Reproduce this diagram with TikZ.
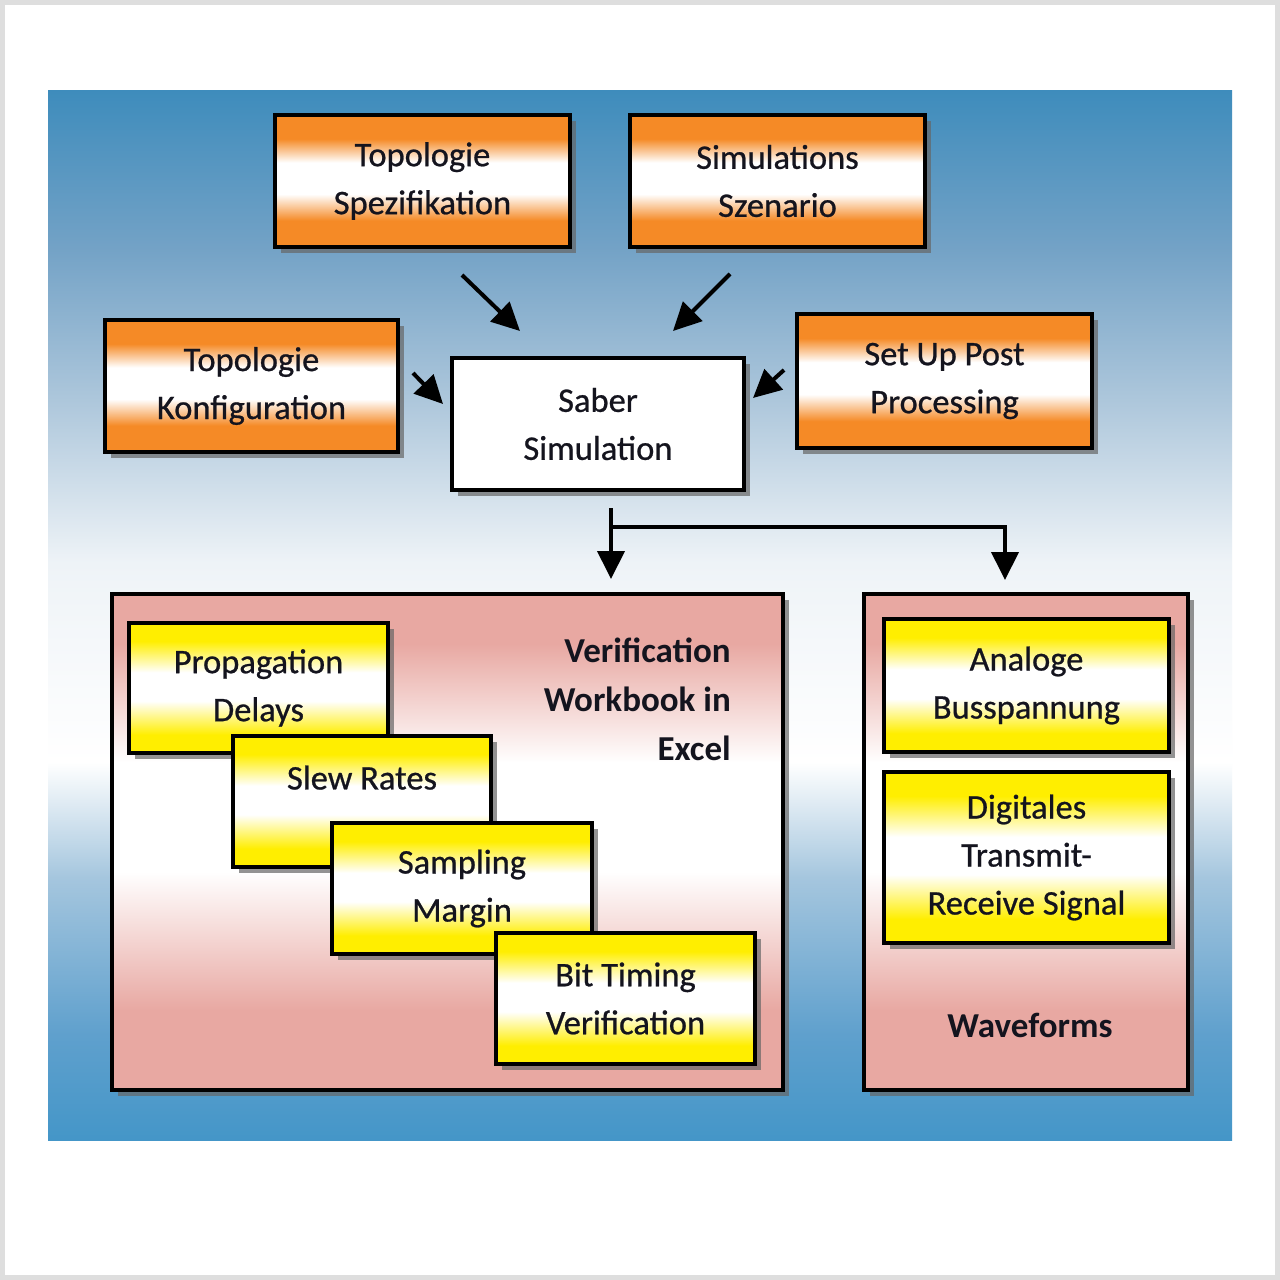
\documentclass[tikz,border=0pt]{standalone}
\usepackage{fontspec}
\setmainfont{Carlito}
\newfontfamily\boxfont{Carlito}[FakeBold=0.7]
\usetikzlibrary{arrows.meta,shadows}
\definecolor{cFrame}{RGB}{222,222,222}
\definecolor{cOrange}{RGB}{245,138,38}
\definecolor{cYellow}{RGB}{255,238,0}
\definecolor{cPink}{RGB}{232,168,162}
\definecolor{cText}{RGB}{20,20,30}
\definecolor{bT}{RGB}{62,140,188}
\definecolor{bB}{RGB}{68,150,200}
\definecolor{bOne}{RGB}{95,160,205}
\definecolor{bTwo}{RGB}{165,198,222}
\definecolor{bThree}{RGB}{238,243,247}
\definecolor{bFour}{RGB}{175,200,220}
\definecolor{bFive}{RGB}{115,162,198}
\pgfdeclareverticalshading{bshade}{100bp}{color(0bp)=(bB); color(25bp)=(bB); color(30bp)=(bOne); color(37.5bp)=(bTwo); color(43bp)=(white); color(52.5bp)=(bThree); color(60bp)=(bFour); color(67.5bp)=(bFive); color(75bp)=(bT); color(100bp)=(bT)}
\pgfdeclareverticalshading{oshade}{100bp}{color(0bp)=(cOrange); color(25bp)=(cOrange); color(35bp)=(cOrange); color(45bp)=(white); color(57bp)=(white); color(66bp)=(cOrange); color(75bp)=(cOrange); color(100bp)=(cOrange)}
\pgfdeclareverticalshading{yshade}{100bp}{color(0bp)=(cYellow); color(25bp)=(cYellow); color(32bp)=(cYellow); color(45bp)=(white); color(56bp)=(white); color(68bp)=(cYellow); color(75bp)=(cYellow); color(100bp)=(cYellow)}
\pgfdeclareverticalshading{pshade}{100bp}{color(0bp)=(cPink); color(25bp)=(cPink); color(33bp)=(cPink); color(47bp)=(white); color(58bp)=(white); color(70bp)=(cPink); color(75bp)=(cPink); color(100bp)=(cPink)}
\tikzset{
  basebox/.style={draw=black, line width=3.5pt, inner sep=0pt, align=center, text=cText,
    font=\boxfont\fontsize{34.5}{48}\selectfont,
    drop shadow={shadow xshift=6pt, shadow yshift=-6pt, fill=black!60, opacity=0.7}},
  obox/.style={basebox, shade, shading=oshade},
  ybox/.style={basebox, shade, shading=yshade},
  pbox/.style={basebox, shade, shading=pshade},
  wbox/.style={basebox, fill=white},
  boldtxt/.style={inner sep=0pt, text=cText, font=\fontsize{35}{49}\selectfont\bfseries},
  arr/.style={line width=4pt, line join=miter, -{Triangle[length=28pt,width=27pt]}}
}
\begin{document}
\begin{tikzpicture}[x=1pt,y=-1pt]
\useasboundingbox (0,0) rectangle (1280,1280);
\fill[cFrame] (0,0) rectangle (1280,1280);
\fill[white] (5,5) rectangle (1275,1275);
\shade[shading=bshade] (48,90) rectangle (1232,1140);

% top boxes
\node[obox, minimum width=295, minimum height=132] (spez) at (422.5,181) {Topologie\\Spezifikation};
\node[obox, minimum width=295, minimum height=132] (szen) at (777.5,181) {Simulations\\Szenario};
\node[obox, minimum width=293, minimum height=132] (konf) at (251.5,386) {Topologie\\Konfiguration};
\node[obox, minimum width=295, minimum height=134] (post) at (944.5,381) {Set Up Post\\Processing};
\node[wbox, minimum width=292, minimum height=132] (saber) at (598,424) {Saber\\Simulation};

% arrows into Saber
\coordinate (a1s) at (462,275); \coordinate (a1e) at (520,331);
\coordinate (a2s) at (730,274); \coordinate (a2e) at (673,331);
\coordinate (a3s) at (413,373); \coordinate (a3e) at (443,404);
\coordinate (a4s) at (784,370); \coordinate (a4e) at (753,398);
\draw[arr] (a1s) -- (a1e);
\draw[arr] (a2s) -- (a2e);
\draw[arr] (a3s) -- (a3e);
\draw[arr] (a4s) -- (a4e);

% panels
\node[pbox, minimum width=671, minimum height=496] (lpanel) at (447.5,842) {};
\node[pbox, minimum width=324, minimum height=496] (rpanel) at (1026,842) {};

% branch arrows
\coordinate (b0) at (611,508);
\coordinate (bj) at (611,527);
\coordinate (b1) at (611,579);
\coordinate (br) at (1005,527);
\coordinate (b2) at (1005,580);
\draw[arr] (b0) -- (b1);
\draw[arr] (bj) -- (br) -- (b2);

% left panel content
\node[boldtxt, anchor=east, align=right] (vtxt) at (731,699) {Verification\\Workbook in\\Excel};
\node[ybox, minimum width=259, minimum height=130] (prop) at (258.5,688) {Propagation\\Delays};
\node[ybox, minimum width=258, minimum height=131] (slew) at (362,801.5) {Slew Rates\\\mbox{}};
\node[ybox, minimum width=260, minimum height=131] (samp) at (462,888.5) {Sampling\\Margin};
\node[ybox, minimum width=259, minimum height=131] (bit) at (625.5,998.5) {Bit Timing\\Verification};

% right panel content
\node[ybox, minimum width=285, minimum height=133] (ana) at (1026.5,685.5) {Analoge\\Busspannung};
\node[ybox, minimum width=285, minimum height=171] (dig) at (1026.5,857.5) {Digitales\\Transmit-\\Receive Signal};
\node[boldtxt] (wave) at (1030,1025) {Waveforms};
\end{tikzpicture}
\end{document}
